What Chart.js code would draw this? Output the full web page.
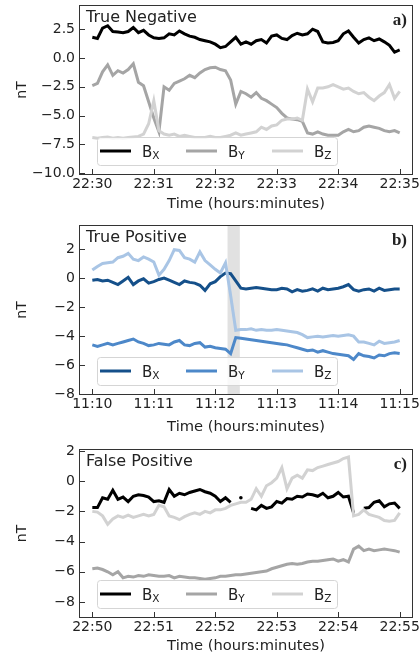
<!doctype html>
<html>
<head>
<meta charset="utf-8">
<title>B field events</title>
<script src="https://cdn.jsdelivr.net/npm/chart.js@4.4.1/dist/chart.umd.min.js"></script>
<style>
  body { margin: 0; background: #fff; }
  canvas { position: absolute; left: 0; }
</style>
</head>
<body>
<canvas id="chartA" width="419" height="220" style="top:0px"></canvas>
<canvas id="chartB" width="419" height="220" style="top:220px"></canvas>
<canvas id="chartC" width="419" height="218" style="top:438px"></canvas>
<script>
// time in seconds from the start of each 5 minute window
const seconds = [0,5,10,15,20,25,30,35,40,45,50,55,60,65,70,75,80,85,90,95,
  100,105,110,115,120,125,130,135,140,145,150,155,160,165,170,175,180,185,190,195,
  200,205,210,215,220,225,230,235,240,245,250,255,260,265,270,275,280,285,290,295,300];

const tickSeconds = [0, 60, 120, 180, 240, 300];
const labelsA = ['22:30','22:31','22:32','22:33','22:34','22:35'];
const labelsB = ['11:10','11:11','11:12','11:13','11:14','11:15'];
const labelsC = ['22:50','22:51','22:52','22:53','22:54','22:55'];

const yTicksA = [-10, -7.5, -5, -2.5, 0, 2.5];
const yTicksB = [-8, -6, -4, -2, 0, 2];
const yTicksC = [-8, -6, -4, -2, 0, 2];

// a) True Negative
const bxA = [1.8,1.7,2.6,2.8,2.3,2.25,2.2,2.3,2.65,2.2,
  2.4,2.0,1.75,1.7,1.75,2.1,2.0,2.35,2.1,1.9,
  1.8,1.6,1.5,1.4,1.2,0.9,1.0,1.4,1.8,1.2,
  1.4,1.2,1.5,1.6,1.3,1.9,2.0,1.7,1.6,1.95,
  2.15,2.0,2.1,2.5,2.3,1.4,1.3,1.35,1.5,2.1,
  2.35,1.8,1.3,1.6,1.75,1.5,1.65,1.4,1.1,0.5,
  0.7];
const byA = [-2.4,-2.2,-1.2,-0.6,-1.5,-1.1,-1.3,-1.0,-0.5,-2.1,
  -2.4,-3.8,-5.2,-6.4,-2.5,-2.8,-2.2,-2.0,-1.8,-1.5,
  -1.7,-1.3,-1.0,-0.85,-0.8,-1.0,-1.1,-1.9,-4.0,-2.9,
  -3.1,-3.4,-3.0,-3.5,-3.7,-4.0,-4.3,-4.8,-5.2,-5.3,
  -5.35,-5.5,-6.5,-6.6,-6.4,-6.6,-6.7,-6.7,-6.7,-6.4,
  -6.2,-6.4,-6.3,-6.0,-5.9,-6.0,-6.1,-6.3,-6.4,-6.3,
  -6.5];
const bzA = [-6.9,-6.95,-6.9,-6.85,-6.95,-6.9,-6.95,-6.9,-6.85,-6.8,
  -6.6,-5.7,-3.7,-6.3,-6.6,-6.7,-6.6,-6.8,-6.7,-6.8,
  -6.9,-6.9,-6.9,-6.8,-6.9,-6.9,-6.8,-6.7,-6.5,-6.7,
  -6.6,-6.5,-6.4,-6.0,-6.2,-5.9,-5.8,-5.4,-5.3,-5.3,
  -5.2,-5.4,-2.7,-3.8,-2.6,-2.6,-2.5,-2.3,-2.5,-2.7,
  -2.6,-2.9,-3.1,-3.0,-3.4,-3.7,-3.3,-3.0,-2.3,-3.5,
  -2.9];

// b) True Positive
const bxB = [-0.15,-0.1,-0.2,-0.15,-0.3,-0.45,-0.2,0.05,-0.45,-0.2,
  -0.05,-0.35,-0.25,-0.1,0.0,-0.15,-0.3,-0.45,-0.2,-0.3,
  -0.35,-0.5,-0.85,-0.4,-0.25,0.1,0.35,0.3,-0.2,-0.7,
  -0.75,-0.7,-0.65,-0.7,-0.75,-0.8,-0.8,-0.7,-0.75,-0.95,
  -0.8,-0.9,-0.85,-0.75,-0.9,-0.7,-0.8,-0.75,-0.7,-0.6,
  -0.45,-0.8,-0.9,-0.8,-0.75,-0.9,-0.7,-0.85,-0.8,-0.75,
  -0.75];
const byB = [-4.6,-4.7,-4.6,-4.5,-4.6,-4.5,-4.4,-4.3,-4.2,-4.4,
  -4.5,-4.65,-4.6,-4.5,-4.55,-4.6,-4.4,-4.3,-4.6,-4.65,
  -4.5,-4.45,-4.75,-4.7,-4.8,-4.85,-4.9,-5.2,-4.1,-4.15,
  -4.2,-4.25,-4.3,-4.35,-4.4,-4.45,-4.5,-4.55,-4.6,-4.7,
  -4.8,-4.9,-5.0,-4.95,-5.1,-5.0,-5.1,-5.2,-5.25,-5.3,
  -5.35,-5.6,-5.2,-5.35,-5.4,-5.5,-5.3,-5.35,-5.2,-5.15,
  -5.2];
const bzB = [0.55,0.8,1.0,1.05,1.1,1.4,1.5,1.7,1.3,1.2,
  1.45,1.3,1.1,0.2,0.6,1.2,1.95,1.9,1.4,1.3,
  1.1,1.8,1.2,0.9,0.6,0.35,1.05,-1.2,-3.6,-3.55,
  -3.55,-3.5,-3.6,-3.55,-3.6,-3.6,-3.55,-3.6,-3.65,-3.7,
  -3.75,-3.9,-4.1,-4.05,-4.0,-4.05,-4.0,-3.95,-4.0,-3.95,
  -3.9,-4.0,-4.4,-4.4,-4.5,-4.6,-4.35,-4.5,-4.45,-4.4,
  -4.3];
const spanB = [132, 144];

// c) False Positive (gaps are missing samples)
const bxC = [-1.75,-1.75,-1.1,-1.2,-0.6,-1.2,-1.05,-1.35,-1.0,-0.9,
  -0.95,-1.05,-1.35,-1.3,-1.4,-0.55,-1.0,-0.8,-0.9,-0.75,
  -0.65,-0.55,-0.7,-0.8,-1.0,-1.35,-1.1,-1.4,null,-1.1,
  null,-1.8,-1.9,-1.6,-1.8,-1.7,-1.35,-1.45,-1.15,-1.2,
  -1.0,-1.05,-0.85,-0.9,-1.0,-0.8,-1.1,-1.0,-0.75,-1.05,
  -1.0,-2.1,null,-1.8,-1.75,-1.4,-1.3,-1.7,-1.5,-1.45,
  -1.8];
const byC = [-5.8,-5.75,-5.85,-6.0,-6.2,-6.0,-6.4,-6.3,-6.35,-6.25,
  -6.3,-6.2,-6.25,-6.3,-6.3,-6.25,-6.4,-6.3,-6.35,-6.4,
  -6.4,-6.45,-6.5,-6.45,-6.4,-6.3,-6.3,-6.25,-6.2,-6.2,
  -6.15,-6.1,-6.05,-6.0,-5.95,-5.8,-5.7,-5.6,-5.5,-5.45,
  -5.5,-5.45,-5.35,-5.3,-5.3,-5.25,-5.2,-5.15,-5.3,-5.2,
  -5.35,-4.5,-4.3,-4.6,-4.5,-4.6,-4.55,-4.5,-4.55,-4.6,
  -4.7];
const bzC = [-2.0,-2.05,-2.3,-2.85,-2.5,-2.3,-2.4,-2.25,-2.4,-2.3,
  -2.2,-2.3,-2.2,-1.6,-1.7,-2.3,-2.4,-2.55,-2.35,-2.2,
  -2.1,-2.2,-2.0,-2.1,-1.9,-1.9,-1.8,-1.6,-1.5,-1.4,
  -1.4,-1.2,-0.5,-1.0,-0.3,-0.1,0.2,0.9,-0.5,0.2,
  0.4,0.2,0.75,0.7,0.9,1.0,1.1,1.2,1.3,1.5,
  1.6,-2.3,-2.2,-1.9,-2.2,-2.3,-2.4,-2.6,-2.65,-2.6,
  -2.1];

const comps = ['X', 'Y', 'Z'];
const grays = ['#000000', '#a5a5a5', '#d2d2d2'];
const blues = ['#15508a', '#4d88c9', '#a9c5e5'];

const FONT = '"DejaVu Sans", sans-serif';
Chart.defaults.font.family = FONT;
Chart.defaults.color = '#222';

// box, inward ticks, shaded span, in-axes legend and labels
const panelDeco = {
  id: 'panelDeco',
  beforeDatasetsDraw(chart, args, o) {
    if (!o.span) return;
    const {ctx, chartArea: a, scales: {x}} = chart;
    const x0 = x.getPixelForValue(o.span[0]), x1 = x.getPixelForValue(o.span[1]);
    ctx.save();
    ctx.fillStyle = 'rgba(200,200,200,0.55)';
    ctx.fillRect(x0, a.top, x1 - x0, a.bottom - a.top);
    ctx.restore();
  },
  afterDraw(chart, args, o) {
    const {ctx, chartArea: a, scales: {x, y}} = chart;
    ctx.save();
    ctx.strokeStyle = '#333';
    ctx.lineWidth = 1;
    ctx.strokeRect(a.left + 0.5, a.top + 0.5, a.right - a.left - 1, a.bottom - a.top - 1);
    ctx.beginPath();
    x.ticks.forEach(t => {
      const px = Math.round(x.getPixelForValue(t.value)) + 0.5;
      ctx.moveTo(px, a.bottom); ctx.lineTo(px, a.bottom - 6);
    });
    y.ticks.forEach(t => {
      const py = Math.round(y.getPixelForValue(t.value)) + 0.5;
      ctx.moveTo(a.left, py); ctx.lineTo(a.left + 6, py);
    });
    ctx.stroke();

    // legend
    const bx = a.left + 18, by = a.bottom - 38, bw = 240, bh = 28;
    ctx.beginPath();
    ctx.roundRect(bx + 0.5, by + 0.5, bw, bh, 3);
    ctx.fillStyle = 'rgba(255,255,255,0.8)';
    ctx.fill();
    ctx.strokeStyle = '#d5d5d5';
    ctx.stroke();
    const cy = by + 14;
    chart.data.datasets.forEach((ds, i) => {
      const ox = bx + 3 + i * 86;
      ctx.strokeStyle = ds.borderColor;
      ctx.lineWidth = 3;
      ctx.beginPath(); ctx.moveTo(ox, cy); ctx.lineTo(ox + 31, cy); ctx.stroke();
      ctx.fillStyle = '#222';
      ctx.textBaseline = 'alphabetic';
      ctx.textAlign = 'left';
      ctx.font = '15px ' + FONT;
      ctx.fillText('B', ox + 42, cy + 5.5);
      const w = ctx.measureText('B').width;
      ctx.font = '10.5px ' + FONT;
      ctx.fillText(comps[i], ox + 42 + w, cy + 8);
    });

    ctx.fillStyle = '#222';
    ctx.font = '16px ' + FONT;
    ctx.textAlign = 'left';
    ctx.fillText(o.title, a.left + 7, a.top + 17);
    ctx.font = 'bold 17px "Liberation Serif", serif';
    ctx.textAlign = 'right';
    ctx.fillText(o.tag, a.right - 6, a.top + 20);
    ctx.restore();
  }
};

function isolated(vals, k) {
  return vals[k] != null && (k === 0 || vals[k - 1] == null) && (k === vals.length - 1 || vals[k + 1] == null);
}

function makePanel(id, p) {
  new Chart(document.getElementById(id), {
    type: 'line',
    data: {
      datasets: p.series.map((vals, i) => ({
        label: 'B' + comps[i],
        data: seconds.map((s, k) => ({x: s, y: vals[k]})),
        borderColor: p.colors[i],
        backgroundColor: p.colors[i],
        borderWidth: 3,
        pointRadius: c => isolated(vals, c.dataIndex) ? 1.8 : 0,
        pointBorderWidth: 0,
        tension: 0,
        spanGaps: false,
        order: 3 - i
      }))
    },
    options: {
      responsive: false,
      animation: false,
      events: [],
      layout: {padding: {top: p.plotTop, right: 6, left: 0, bottom: 0}},
      plugins: {
        legend: {display: false},
        tooltip: {enabled: false},
        panelDeco: {title: p.title, tag: p.tag, span: p.span}
      },
      scales: {
        x: {
          type: 'linear', min: -13, max: 313,
          afterBuildTicks: s => { s.ticks = tickSeconds.map(v => ({value: v})); },
          afterFit: s => { s.height = p.xAxisH; s.paddingLeft = 0; s.paddingRight = 0; },
          grid: {display: false, drawTicks: false},
          border: {display: false},
          ticks: {
            callback: v => p.xLabels[tickSeconds.indexOf(v)],
            font: {size: 14}, padding: 1, maxRotation: 0, autoSkip: false
          },
          title: {display: true, text: 'Time (hours:minutes)', font: {size: 14.7}, padding: {top: 0, bottom: p.xTitlePad}}
        },
        y: {
          min: p.yMin, max: p.yMax,
          afterBuildTicks: s => { s.ticks = p.yTicks.map(v => ({value: v})); },
          afterFit: s => { s.width = 79; s.paddingTop = 0; s.paddingBottom = 0; },
          grid: {display: false, drawTicks: false},
          border: {display: false},
          ticks: {
            callback: v => (p.decimals ? v.toFixed(1) : String(v)).replace('-', '\u2212'),
            font: {size: 14}, padding: 4, autoSkip: false
          },
          title: {display: true, text: 'nT', font: {size: 14}, padding: {top: 13.6}}
        }
      }
    },
    plugins: [panelDeco]
  });
}

makePanel('chartA', {
  series: [bxA, byA, bzA], colors: grays, xLabels: labelsA,
  yTicks: yTicksA, yMin: -10.15, yMax: 4.6, decimals: true,
  title: 'True Negative', tag: 'a)', plotTop: 5, xAxisH: 45, xTitlePad: 7.2
});
makePanel('chartB', {
  series: [bxB, byB, bzB], colors: blues, xLabels: labelsB, span: spanB,
  yTicks: yTicksB, yMin: -8.05, yMax: 3.65, decimals: false,
  title: 'True Positive', tag: 'b)', plotTop: 5, xAxisH: 45, xTitlePad: 4.5
});
makePanel('chartC', {
  series: [bxC, byC, bzC], colors: grays, xLabels: labelsC,
  yTicks: yTicksC, yMin: -9.06, yMax: 2.13, decimals: false,
  title: 'False Positive', tag: 'c)', plotTop: 11, xAxisH: 38, xTitlePad: 1.2
});
</script>
</body>
</html>
